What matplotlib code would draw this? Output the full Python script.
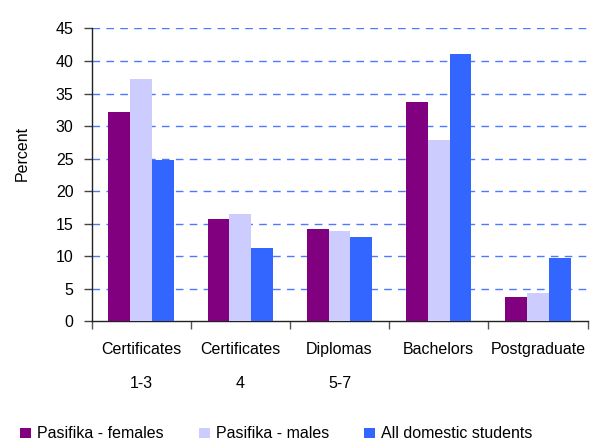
import matplotlib
matplotlib.use("Agg")
import matplotlib.pyplot as plt
from matplotlib.patches import Patch
import numpy as np

categories = ["Certificates\n1-3", "Certificates\n4", "Diplomas\n5-7", "Bachelors", "Postgraduate"]
series_names = ["Pasifika - females", "Pasifika - males", "All domestic students"]
females = [32.2, 15.7, 14.2, 33.7, 3.7]
males = [37.3, 16.5, 13.9, 27.9, 4.4]
all_domestic = [24.8, 11.3, 13.0, 41.1, 9.7]
colors = ["#800080", "#ccccff", "#3366ff"]
yticks = [0, 5, 10, 15, 20, 25, 30, 35, 40, 45]

plt.rcParams["font.family"] = ["Liberation Sans", "DejaVu Sans"]
plt.rcParams["font.size"] = 11.5

fig = plt.figure(figsize=(6.0, 4.43), dpi=100)
ax = fig.add_axes([91.5/600, 1-321.3/443, (587.5-91.5)/600, (321.3-28.5)/443])

x = np.arange(len(categories))
w = 0.22
for i, (vals, c) in enumerate(zip([females, males, all_domestic], colors)):
    ax.bar(x + (i-1)*w, vals, width=w, color=c, zorder=3, linewidth=0)

ax.set_xlim(-0.5, len(categories)-0.5)
ax.set_ylim(0, 45)
ax.set_yticks(yticks)
ax.set_yticklabels([str(v) for v in yticks])
for v in yticks[1:]:
    ax.axhline(v, color="#4d79ff", lw=1.0, dashes=(5.5, 4.5), zorder=1)

ax.set_xticks(x)
ax.set_xticklabels(categories, linespacing=2.55)
ax.set_xticks(np.arange(-0.5, len(categories)), minor=True)
ax.tick_params(axis="x", which="major", length=0, pad=15)
ax.tick_params(axis="x", which="minor", length=6, width=1, color="#555555", direction="out")
ax.tick_params(axis="y", length=6, width=1, color="#444444", direction="out", pad=7)

for s in ["top", "right"]:
    ax.spines[s].set_visible(False)
for s in ["left", "bottom"]:
    ax.spines[s].set_color("#222222")
    ax.spines[s].set_linewidth(1.0)

fig.text(22/600, 1-153/443, "Percent", rotation=90, ha="center", va="center")

handles = [Patch(facecolor=c, edgecolor="none") for c in colors]
fig.legend(handles, series_names, loc="center left", bbox_to_anchor=(20/600, 1-434/443),
           ncol=3, frameon=False, borderpad=0, borderaxespad=0,
           handlelength=0.67, handleheight=0.61, handletextpad=0.4, columnspacing=2.2)

fig.savefig("out.png", dpi=100)
